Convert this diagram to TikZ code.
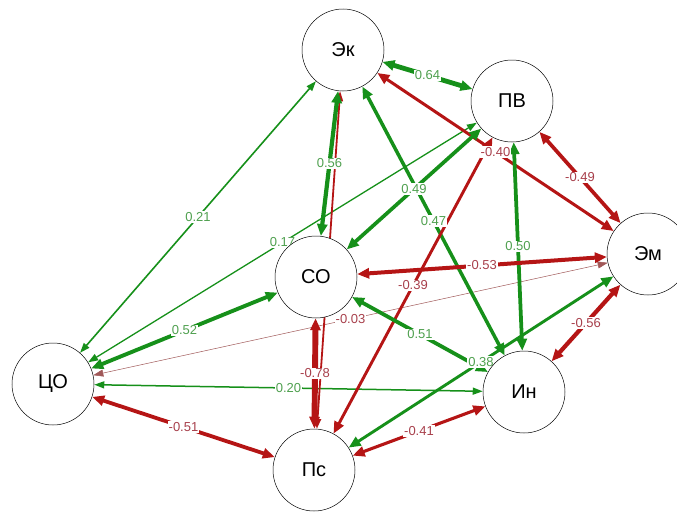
\documentclass[tikz,border=0pt]{standalone}
\usepackage{fontspec}
\setmainfont{Liberation Sans}
\usetikzlibrary{arrows.meta}

\definecolor{grn}{HTML}{16901A}
\definecolor{rd}{HTML}{B51515}
\definecolor{grntxt}{HTML}{4FA04F}
\definecolor{rdtxt}{HTML}{A8404C}
\definecolor{faint}{HTML}{A05858}

\pgfdeclarelayer{edges}
\pgfdeclarelayer{labels}
\pgfsetlayers{edges,labels,main}

\tikzset{
  var/.style={draw, circle, fill=white, minimum size=82pt, inner sep=0pt,
    line width=0.5pt, font=\fontsize{20}{24}\selectfont},
  lab/.style={midway, fill=white, inner sep=1pt, font=\fontsize{13}{15}\selectfont},
  posedge/.style={grn, line width=#1pt,
    {Triangle[length=12pt,width=10pt]}-{Triangle[length=12pt,width=10pt]}},
  negedge/.style={rd, line width=#1pt,
    {Triangle[length=12pt,width=10pt]}-{Triangle[length=12pt,width=10pt]}},
  thin/.style={{Triangle[length=10pt,width=7pt]}-{Triangle[length=10pt,width=7pt]}}
}

\begin{document}
\begin{tikzpicture}[x=1pt, y=-1pt]
    \useasboundingbox (0,0) rectangle (677,514);

    \node[var] (ek) at (343,50) {Эк};
    \node[var] (pv) at (512,101) {ПВ};
    \node[var] (em) at (648,254) {Эм};
    \node[var] (so) at (316,277) {СО};
    \node[var] (co) at (53,384) {ЦО};
    \node[var] (in) at (524,392) {Ин};
    \node[var] (ps) at (314,470) {Пс};

    \begin{pgfonlayer}{edges}
        \draw[negedge=0.5, thin, faint] (co) -- (em);
        \draw[posedge=1.3, thin] (co) -- (pv);
        \draw[posedge=1.6, thin] (co) -- (ek);
        \draw[posedge=1.5, thin] (co) -- (in);
        \draw[negedge=1.8, thin] (ek) -- (ps);
        \draw[posedge=3.5] (ek) -- (in);
        \draw[negedge=2.9] (pv) -- (ps);
        \draw[negedge=3.0] (ek) -- (em);
        \draw[posedge=2.9] (em) -- (ps);
        \draw[posedge=3.8] (so) -- (in);
        \draw[posedge=3.7] (pv) -- (so);
        \draw[posedge=4.8] (ek) -- (pv);
        \draw[negedge=3.7] (pv) -- (em);
        \draw[posedge=3.75] (pv) -- (in);
        \draw[posedge=4.2] (ek) -- (so);
        \draw[posedge=3.9] (co) -- (so);
        \draw[negedge=3.8] (co) -- (ps);
        \draw[negedge=4.0] (so) -- (em);
        \draw[negedge=5.9] (so) -- (ps);
        \draw[negedge=4.2] (em) -- (in);
        \draw[negedge=3.1] (in) -- (ps);
    \end{pgfonlayer}

    % edge weights, on top of the edges but under the nodes
    \begin{pgfonlayer}{labels}
        \foreach \a/\b/\w/\c in {co/em/-0.03/rdtxt, co/pv/0.17/grntxt,
            co/ek/0.21/grntxt, co/in/0.20/grntxt, ek/in/0.47/grntxt,
            pv/ps/-0.39/rdtxt, ek/em/-0.40/rdtxt, em/ps/0.38/grntxt,
            so/in/0.51/grntxt, pv/so/0.49/grntxt, ek/pv/0.64/grntxt,
            pv/em/-0.49/rdtxt, pv/in/0.50/grntxt, ek/so/0.56/grntxt,
            co/so/0.52/grntxt, co/ps/-0.51/rdtxt, so/em/-0.53/rdtxt,
            so/ps/-0.78/rdtxt, em/in/-0.56/rdtxt, in/ps/-0.41/rdtxt}
            \path (\a) -- (\b) node[lab, text=\c] {\w};
    \end{pgfonlayer}
\end{tikzpicture}
\end{document}
